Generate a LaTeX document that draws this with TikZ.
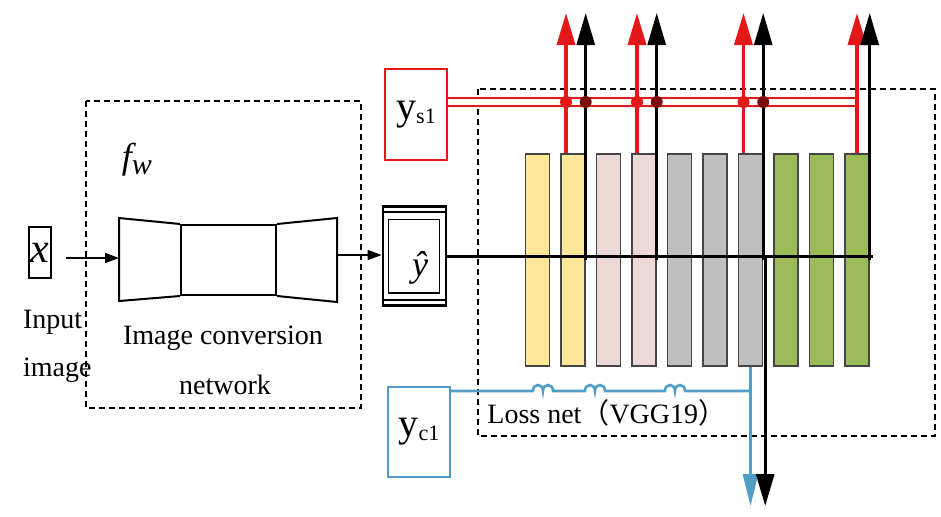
\documentclass[tikz,border=0pt]{standalone}
\usepackage{fontspec}
\setmainfont{Liberation Serif}
\newfontfamily\cjk{Noto Sans CJK SC}
\usetikzlibrary{arrows.meta,positioning}

\definecolor{barY}{RGB}{255,230,153}
\definecolor{barP}{RGB}{236,216,213}
\definecolor{barG}{RGB}{191,191,191}
\definecolor{barV}{RGB}{155,187,89}
\definecolor{barline}{RGB}{70,70,70}
\definecolor{sred}{RGB}{228,24,24}
\definecolor{cblue}{RGB}{80,158,200}

\begin{document}
\begin{tikzpicture}[x=0.5pt,y=-0.5pt,
    font=\fontsize{14}{16}\selectfont,
    dbox/.style={draw, dashed, line width=1pt, dash pattern=on 3pt off 2pt},
    netline/.style={draw, line width=1pt},
    bar/.style={draw=barline, line width=0.7pt, minimum width=12pt, minimum height=106pt, inner sep=0pt},
    farrow/.style={line width=0.8pt, -{Triangle[length=7pt,width=5pt]}},
    sarrow/.style={draw=sred, line width=1.8pt, -{Triangle[length=16pt,width=9pt]}},
    karrow/.style={draw=black, line width=1.4pt, -{Triangle[length=16pt,width=9pt]}},
    carrow/.style={draw=cblue, line width=1.4pt, -{Triangle[length=16pt,width=7.5pt]}},
    sbox/.style={draw=sred, line width=1.2pt, minimum width=31pt, minimum height=45.5pt, inner sep=0pt},
    cbox/.style={draw=cblue, line width=1.2pt, minimum width=31pt, minimum height=45pt, inner sep=0pt}]
    \useasboundingbox (0,0) rectangle (941,516);

    % input and conversion network
    \node[draw, line width=0.9pt, minimum width=11pt, minimum height=25.5pt, inner sep=0pt] (xin) at (40,252.5)
        {\fontsize{21}{21}\selectfont\itshape x};
    \node[anchor=west] (inp) at (16,322) {Input};
    \node[anchor=west] (img) at (16,370) {image};

    \draw[dbox] (86,101) rectangle (361,408);
    \node (fw) at (137,160) {\fontsize{18}{18}\selectfont\itshape f\raisebox{-3pt}{\fontsize{15}{15}\selectfont w}};

    \node[netline, minimum width=47.5pt, minimum height=35pt, inner sep=0pt] (mid) at (228.5,260) {};
    \draw[netline] (mid.north west) -- (119,218) -- (119,301) -- (mid.south west);
    \draw[netline] (mid.north east) -- (337,218) -- (337,302) -- (mid.south east);
    \coordinate (encin) at (119,258);
    \coordinate (decout) at (337,255);
    \draw[farrow] ([xshift=7pt]xin.east |- encin) -- (encin);

    \node (conv) at (223,338) {Image conversion};
    \node (convb) at (225,385) {network};

    % output image
    \node[draw, line width=1.4pt, minimum width=31.5pt, minimum height=49.5pt, inner sep=0pt] (yh) at (414.5,256) {};
    \draw[line width=1pt] ([yshift=-3.5pt]yh.north west) -- ([yshift=-3.5pt]yh.north east);
    \draw[line width=1pt] ([yshift=3.5pt]yh.south west) -- ([yshift=3.5pt]yh.south east);
    \draw[line width=0.6pt] ([shift={(3.5pt,-7pt)}]yh.north west) rectangle ([shift={(-4pt,7pt)}]yh.south east);
    \node (yhl) at (420,268) {\fontsize{18}{18}\selectfont\itshape ŷ};
    \draw[farrow] (decout) -- (yh.west |- decout);

    % loss network
    \draw[dbox] (478,89) rectangle (935,436);
    \node[anchor=west, inner sep=0pt] (loss) at (487,413) {Loss net{\cjk （}VGG19{\cjk ）}};

    \foreach \i/\c in {1/barY,2/barY,3/barP,4/barP,5/barG,6/barG,7/barG,8/barV,9/barV,10/barV}
        \node[bar, fill=\c] (b\i) at ({502+35.5*\i},260) {};

    \coordinate (top) at (0,13);
    \coordinate (bot) at (0,506);
    \coordinate (mainend) at (873,256);
    \coordinate (sbus) at (857,102);
    \coordinate (cbus) at (751,391);

    \draw[line width=1.5pt] (yh.east) -- (mainend);

    % style target
    \node[sbox] (ys) at (416,114.5)
        {\fontsize{20}{20}\selectfont y\raisebox{-2pt}{\fontsize{11}{11}\selectfont s1}};
    \draw[sred, line width=1.2pt, double=white, double distance=2.8pt] (ys.east |- sbus) -- (sbus);
    \foreach \i/\s in {2/-3.5pt,4/-3.5pt,7/-3.5pt,10/0pt} {
        \draw[sarrow] ([xshift=\s]b\i.north) -- ([xshift=\s]b\i.north |- top);
        \draw[karrow] ([yshift=-2pt]b\i.east |- mainend) -- (b\i.east |- top);
    }
    \foreach \i in {2,4,7} {
        \fill[sred] ([xshift=-3.5pt]b\i.north |- sbus) circle (3pt);
        \fill[sred!55!black] (b\i.east |- sbus) circle (3pt);
    }

    % content target
    \node[cbox] (yc) at (419,432)
        {\fontsize{20}{20}\selectfont y\raisebox{-2pt}{\fontsize{11}{11}\selectfont c1}};
    \draw[cblue, line width=1.3pt] (yc.east |- cbus)
        \foreach \h in {533,585,665} { -- (\h,391)
            .. controls (\h,383) and ({\h+10},383) .. ({\h+10},391)
            .. controls ({\h+10},383) and ({\h+20},383) .. ({\h+20},391) }
        -- (cbus);
    \draw[carrow] (b7.south) -- (b7.south |- bot);
    \draw[karrow] ([xshift=1pt]b7.east |- mainend) -- ([xshift=1pt]b7.east |- bot);
\end{tikzpicture}
\end{document}
